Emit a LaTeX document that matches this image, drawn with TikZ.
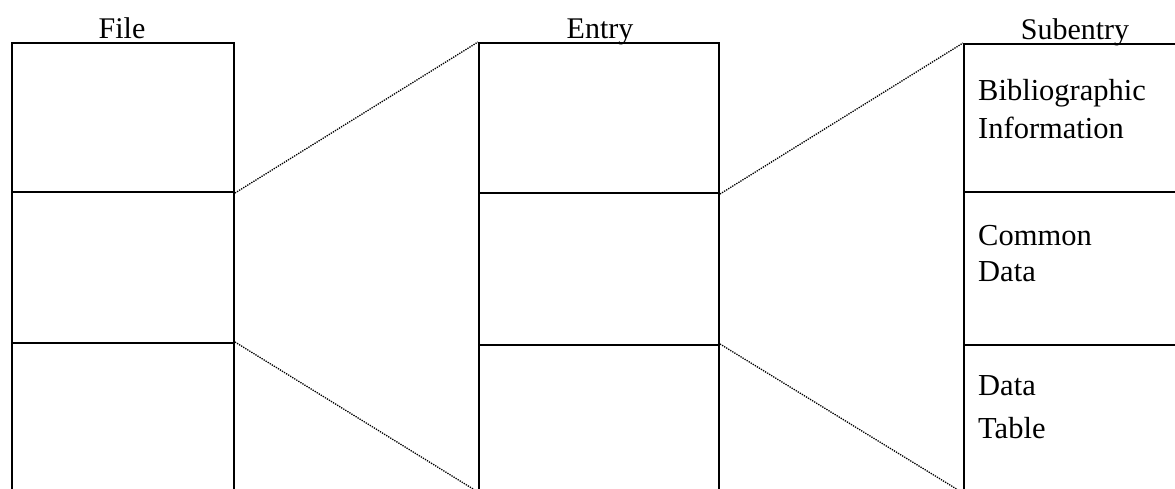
\documentclass[tikz,border=0pt]{standalone}
\usepackage{fontspec}
\setmainfont{Liberation Serif}
\begin{document}
\begin{tikzpicture}[x=1pt,y=-1pt,
  cell/.style={draw, line width=2pt, rectangle, inner sep=0pt, anchor=north west},
  link/.style={line width=1.3pt, dash pattern=on 1.3pt off 1.1pt},
  lbl/.style={inner sep=0pt, anchor=base, font=\fontsize{30}{36}\selectfont},
  txt/.style={inner sep=0pt, anchor=base west, font=\fontsize{30.5}{36}\selectfont}]
\useasboundingbox (0,0) rectangle (1175,488);
\clip (0,0) rectangle (1175,488);
% File column
\node[cell, minimum width=222pt, minimum height=149pt] (fA) at (11,42) {};
\node[cell, minimum width=222pt, minimum height=151pt] (fB) at (11,191) {};
\node[cell, minimum width=222pt, minimum height=160pt] (fC) at (11,342) {};
% Entry column
\node[cell, minimum width=240pt, minimum height=150pt] (eA) at (478,42) {};
\node[cell, minimum width=240pt, minimum height=152pt] (eB) at (478,192) {};
\node[cell, minimum width=240pt, minimum height=160pt] (eC) at (478,344) {};
% Subentry column
\node[cell, minimum width=240pt, minimum height=148pt] (sA) at (963,43) {};
\node[cell, minimum width=240pt, minimum height=153pt] (sB) at (963,191) {};
\node[cell, minimum width=240pt, minimum height=160pt] (sC) at (963,344) {};
% headings
\node[lbl] (lf) at (122,38) {File};
\node[lbl] (le) at (600,38) {Entry};
\node[lbl] (ls) at (1075,39) {Subentry};
% subentry texts
\node[txt] (t1) at (978,100) {Bibliographic};
\node[txt] (t2) at (978,138) {Information};
\node[txt] (t3) at (978,245) {Common};
\node[txt] (t4) at (978,281) {Data};
\node[txt] (t5) at (978,395) {Data};
\node[txt] (t6) at (978,438) {Table};
% connectors
\coordinate (eCend) at (478,492);
\coordinate (sCend) at (963,493);
\draw[link] (fA.south east) -- (eA.north west);
\draw[link] (fC.north east) -- (eCend);
\draw[link] (eA.south east) -- (sA.north west);
\draw[link] (eC.north east) -- (sCend);
\end{tikzpicture}
\end{document}
